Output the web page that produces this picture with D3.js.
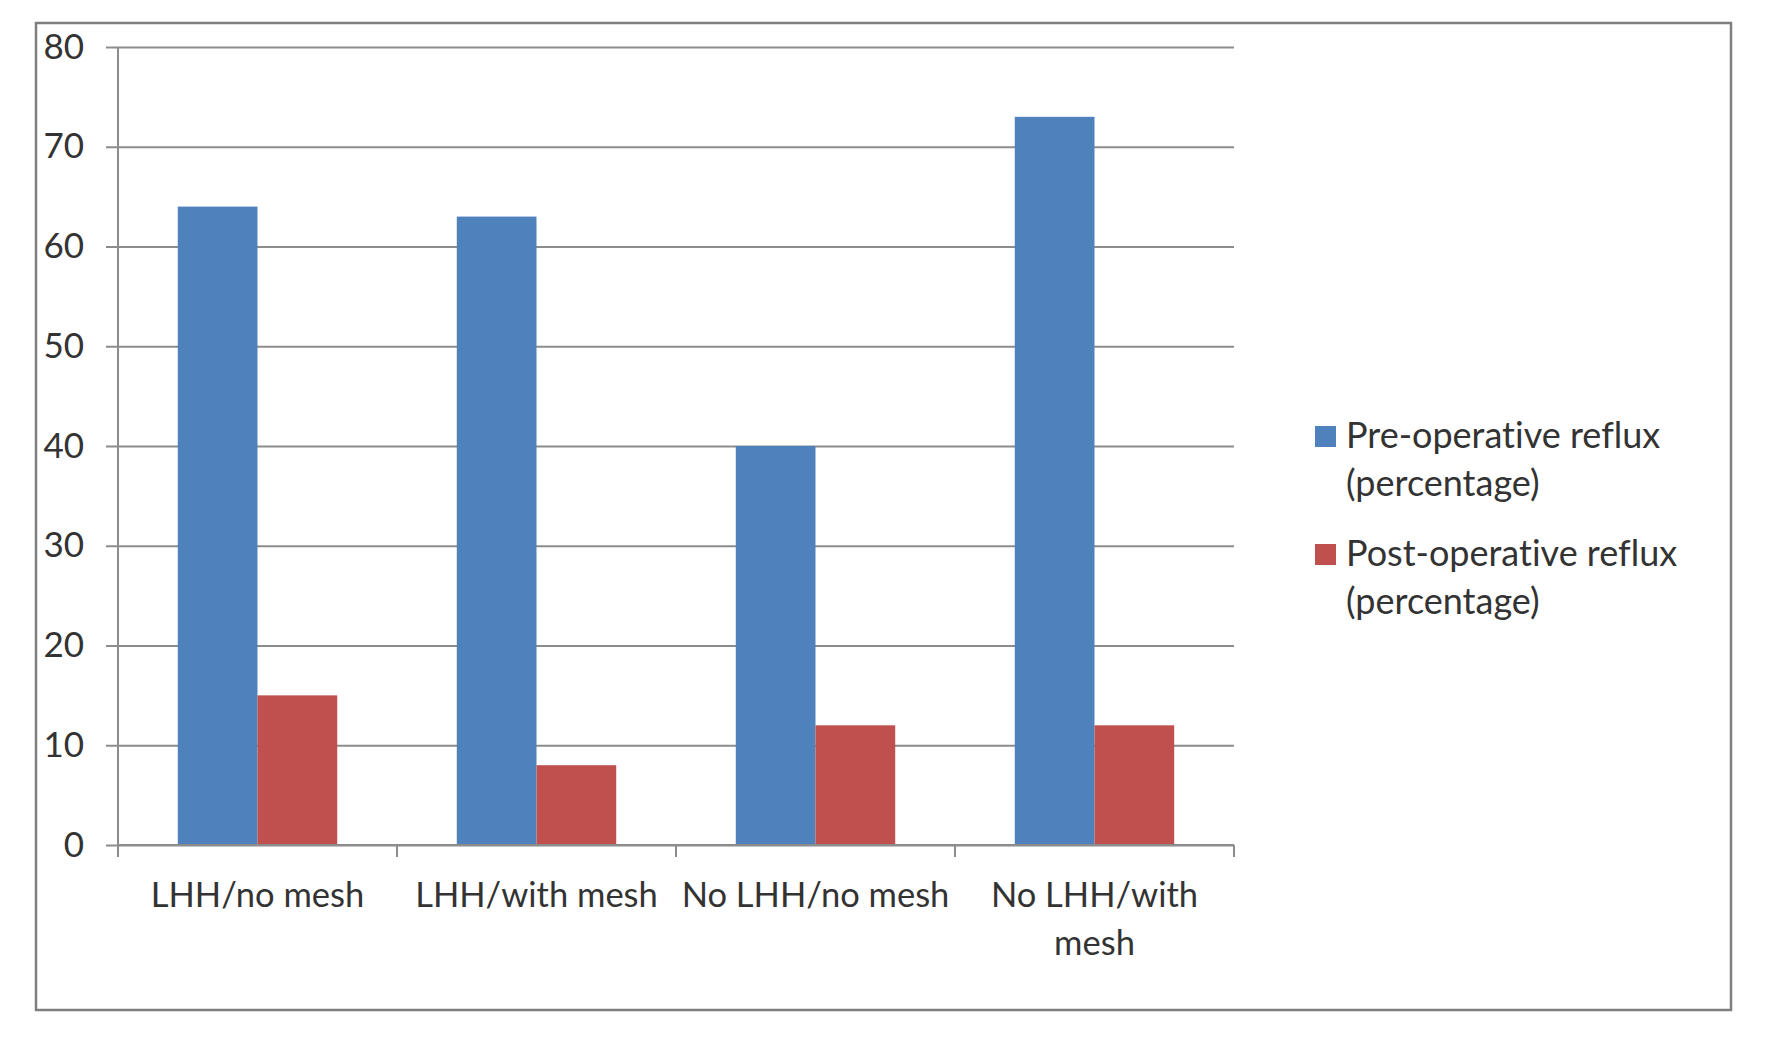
<!DOCTYPE html>
<html>
<head>
<meta charset="utf-8">
<script src="https://cdn.jsdelivr.net/npm/d3@7"></script>
<style>
  body { margin: 0; background: #fff; }
  text { font-family: Lato, "Open Sans", sans-serif; fill: #333; font-variant-ligatures: none; }
</style>
</head>
<body>
<svg id="chart" width="1772" height="1041"></svg>
<script>
// data
let categories = ["LHH/no mesh", "LHH/with mesh", "No LHH/no mesh", "No LHH/with mesh"];
let preOp = [64, 63, 40, 73];
let postOp = [15, 8, 12, 12];
let seriesNames = ["Pre-operative reflux (percentage)", "Post-operative reflux (percentage)"];
let seriesColors = ["#4f81bd", "#c0504d"];
let yTicks = [0, 10, 20, 30, 40, 50, 60, 70, 80];

let svg = d3.select("#chart");

// outer frame
svg.append("rect")
    .attr("x", 36).attr("y", 23)
    .attr("width", 1695).attr("height", 987)
    .attr("fill", "#fff")
    .attr("stroke", "#7f7f7f")
    .attr("stroke-width", 2.5);

let plotLeft = 118, plotRight = 1234, plotTop = 47, plotBottom = 845;

let x = d3.scaleBand()
    .domain(categories)
    .range([plotLeft, plotRight]);

let xInner = d3.scaleBand()
    .domain([0, 1])
    .range([0, x.bandwidth()])
    .paddingOuter(0.75)
    .paddingInner(0);

let y = d3.scaleLinear()
    .domain([0, 80])
    .range([plotBottom, plotTop]);

// gridlines + y axis
let yAxis = d3.axisLeft(y)
    .tickValues(yTicks)
    .tickSize(-(plotRight - plotLeft))
    .tickPadding(34)
    .tickFormat(d3.format("d"));

let gy = svg.append("g")
    .attr("transform", "translate(" + plotLeft + ",0)")
    .call(yAxis);
gy.select(".domain").remove();
gy.selectAll(".tick line")
    .attr("x1", -12)
    .attr("stroke", "#8c8c8c")
    .attr("stroke-width", 2);
gy.selectAll(".tick text")
    .attr("font-size", 35)
    .attr("fill", "#333");

// vertical axis line
svg.append("line")
    .attr("x1", plotLeft).attr("x2", plotLeft)
    .attr("y1", plotTop).attr("y2", plotBottom)
    .attr("stroke", "#8c8c8c")
    .attr("stroke-width", 2);

// bars
let rows = categories.map(function(c, i){
    return { cat: c, vals: [preOp[i], postOp[i]] };
});

let groups = svg.selectAll("g.grp")
    .data(rows)
    .enter()
    .append("g")
    .attr("class", "grp")
    .attr("transform", function(d){ return "translate(" + x(d.cat) + ",0)"; });

groups.selectAll("rect")
    .data(function(d){ return d.vals; })
    .enter()
    .append("rect")
    .attr("x", function(d, i){ return xInner(i); })
    .attr("width", xInner.bandwidth())
    .attr("y", function(d){ return y(d); })
    .attr("height", function(d){ return y(0) - y(d); })
    .attr("fill", function(d, i){ return seriesColors[i]; });

// x axis line + boundary ticks
svg.append("line")
    .attr("x1", plotLeft).attr("x2", plotRight)
    .attr("y1", plotBottom).attr("y2", plotBottom)
    .attr("stroke", "#8c8c8c")
    .attr("stroke-width", 2);

let bounds = categories.map(function(c){ return x(c); }).concat([plotRight]);
svg.selectAll("line.xtick")
    .data(bounds)
    .enter()
    .append("line")
    .attr("class", "xtick")
    .attr("x1", function(d){ return d; })
    .attr("x2", function(d){ return d; })
    .attr("y1", plotBottom)
    .attr("y2", plotBottom + 12)
    .attr("stroke", "#8c8c8c")
    .attr("stroke-width", 2);

// category labels (last one wraps)
let labelLines = [["LHH/no mesh"], ["LHH/with mesh"], ["No LHH/no mesh"], ["No LHH/with", "mesh"]];
svg.selectAll("text.xlab")
    .data(categories)
    .enter()
    .append("text")
    .attr("class", "xlab")
    .attr("text-anchor", "middle")
    .attr("font-size", 34.5)
    .attr("transform", function(d){ return "translate(" + (x(d) + x.bandwidth() / 2) + ",907)"; })
    .each(function(d, i){
        let t = d3.select(this);
        labelLines[i].forEach(function(line, j){
            t.append("tspan")
                .attr("x", 0)
                .attr("y", j * 48)
                .text(line);
        });
    });

// legend
let legend = svg.append("g")
    .attr("transform", "translate(1315,426)");

let legendItems = legend.selectAll("g")
    .data(seriesNames)
    .enter()
    .append("g")
    .attr("transform", function(d, i){ return "translate(0," + (i * 118) + ")"; });

legendItems.append("rect")
    .attr("width", 21).attr("height", 21)
    .attr("fill", function(d, i){ return seriesColors[i]; });

legendItems.append("text")
    .attr("font-size", 36)
    .each(function(d){
        let t = d3.select(this);
        let parts = [d.replace(" (percentage)", ""), "(percentage)"];
        parts.forEach(function(p, j){
            t.append("tspan")
                .attr("x", 31)
                .attr("y", 22 + j * 48)
                .text(p);
        });
    });
</script>
</body>
</html>
